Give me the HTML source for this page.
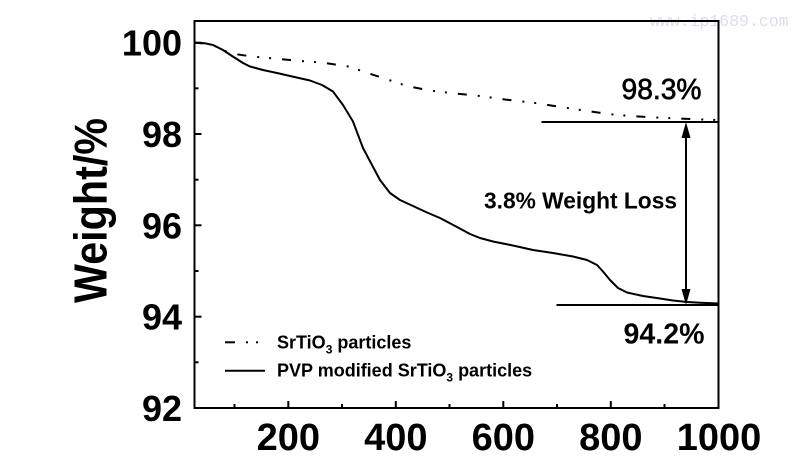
<!DOCTYPE html>
<html>
<head>
<meta charset="utf-8">
<style>
  html, body { margin:0; padding:0; background:#fff; }
  svg { display:block; }
  text { font-family: "Liberation Sans", Arial, sans-serif; fill:#000; }
</style>
</head>
<body>
<svg width="800" height="470" viewBox="0 0 800 470" xmlns="http://www.w3.org/2000/svg">
  <rect width="800" height="470" fill="#fff"/>

  <!-- watermark -->
  <text x="650" y="26" font-family="Liberation Mono, monospace" font-size="16.5" style="fill:#dcdcf0;font-family:'Liberation Mono',monospace">www.ip1689.com</text>

  <!-- frame -->
  <rect x="194.5" y="21" width="524" height="387" fill="none" stroke="#000" stroke-width="2"/>

  <!-- Y ticks (inward) -->
  <g stroke="#000" stroke-width="2">
    <line x1="194.5" y1="42.7" x2="201.5" y2="42.7"/>
    <line x1="194.5" y1="134" x2="201.5" y2="134"/>
    <line x1="194.5" y1="225.3" x2="201.5" y2="225.3"/>
    <line x1="194.5" y1="316.7" x2="201.5" y2="316.7"/>
    <line x1="194.5" y1="88.3" x2="198.5" y2="88.3"/>
    <line x1="194.5" y1="179.7" x2="198.5" y2="179.7"/>
    <line x1="194.5" y1="271" x2="198.5" y2="271"/>
    <line x1="194.5" y1="362.3" x2="198.5" y2="362.3"/>
  </g>
  <!-- X ticks (inward) -->
  <g stroke="#000" stroke-width="2">
    <line x1="288.3" y1="408" x2="288.3" y2="401"/>
    <line x1="395.8" y1="408" x2="395.8" y2="401"/>
    <line x1="503.3" y1="408" x2="503.3" y2="401"/>
    <line x1="610.8" y1="408" x2="610.8" y2="401"/>
    <line x1="234.5" y1="408" x2="234.5" y2="404"/>
    <line x1="342" y1="408" x2="342" y2="404"/>
    <line x1="449.5" y1="408" x2="449.5" y2="404"/>
    <line x1="557" y1="408" x2="557" y2="404"/>
    <line x1="664.5" y1="408" x2="664.5" y2="404"/>
  </g>

  <!-- Y tick labels -->
  <g font-size="36" font-weight="bold" text-anchor="end">
    <text x="182" y="55.5">100</text>
    <text x="182" y="147">98</text>
    <text x="182" y="238.3">96</text>
    <text x="182" y="329.7">94</text>
    <text x="182" y="421">92</text>
  </g>
  <!-- X tick labels -->
  <g font-size="38" font-weight="bold" text-anchor="middle">
    <text x="288.3" y="450">200</text>
    <text x="395.8" y="450">400</text>
    <text x="503.3" y="450">600</text>
    <text x="610.8" y="450">800</text>
    <text x="719" y="450">1000</text>
  </g>

  <!-- Y axis title -->
  <g transform="translate(106.5,210.5) rotate(-90)">
    <text x="0" y="0" font-size="46" font-weight="bold" text-anchor="middle" textLength="185" lengthAdjust="spacingAndGlyphs">Weight/%</text>
  </g>

  <!-- Dash-dot series: SrTiO3 particles -->
  <path fill="none" stroke="#000" stroke-width="2" stroke-dasharray="9 11 2 10 2 11"
    d="M194.5,42.7 L205,43.5 L213,45 L223,50 L231,53.5 L252,56.5 L280,59 L300,61 L323,62.7 L350,66.7 L363,71.5 L383,78 L407,86 L430,90.5 L453,93.3 L480,96 L505,99.5 L533,102.7 L563,107.3 L585,110.7 L608,114 L630,116 L653,117.3 L673,118.3 L696,119.3 L718,120"/>

  <!-- Solid series: PVP modified -->
  <path fill="none" stroke="#000" stroke-width="2" stroke-linejoin="round"
    d="M194.5,42.7 L205,43.3 L213,45 L223,50 L232,56 L243,63 L250,66.5 L263,70 L277,73 L290,76 L310,80.5 L322,85 L333,91.5 L343,105 L353,121.5 L363,148 L372,165 L380,180 L390,193 L400,200 L413,206 L427,212.5 L440,218 L457,227 L470,234 L480,238 L493,241.5 L513,245.5 L533,250 L553,253 L573,256.5 L587,260 L597,265 L603,271.5 L610,280 L618,288 L627,292.5 L643,296 L660,298.5 L673,300.5 L687,302 L700,302.7 L713,303.3 L718,303.5"/>

  <!-- annotation lines -->
  <g stroke="#000" stroke-width="2">
    <line x1="541.5" y1="122" x2="718" y2="122"/>
    <line x1="556.5" y1="305" x2="718" y2="305"/>
    <line x1="686" y1="136" x2="686" y2="291"/>
  </g>
  <polygon points="686,122 681.5,138 690.5,138" fill="#000"/>
  <polygon points="686,305 681.5,289 690.5,289" fill="#000"/>

  <!-- annotation text -->
  <text x="621.5" y="99" font-size="29" textLength="80" lengthAdjust="spacingAndGlyphs" stroke="#000" stroke-width="0.7">98.3%</text>
  <text x="623.5" y="343.3" font-size="29" font-weight="bold" textLength="81" lengthAdjust="spacingAndGlyphs">94.2%</text>
  <text x="484" y="208.3" font-size="23" font-weight="bold" textLength="193" lengthAdjust="spacingAndGlyphs">3.8% Weight Loss</text>

  <!-- legend -->
  <g stroke="#000" stroke-width="2">
    <line x1="225" y1="342.3" x2="235" y2="342.3"/>
    <line x1="246" y1="342.3" x2="248" y2="342.3"/>
    <line x1="256" y1="342.3" x2="258" y2="342.3"/>
    <line x1="225" y1="370.7" x2="265" y2="370.7"/>
  </g>
  <text x="277" y="348.3" font-size="18" font-weight="bold">SrTiO<tspan font-size="12" dy="5">3</tspan><tspan dy="-5"> particles</tspan></text>
  <text x="277" y="376.7" font-size="18" font-weight="bold">PVP modified SrTiO<tspan font-size="12" dy="5">3</tspan><tspan dy="-5"> particles</tspan></text>
</svg>
</body>
</html>
